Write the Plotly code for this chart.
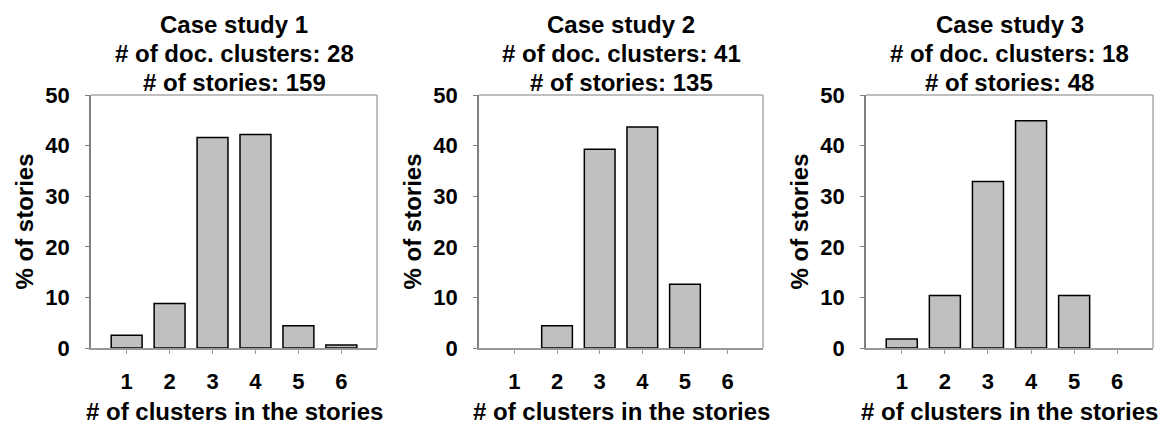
import plotly.graph_objects as go

categories = [1, 2, 3, 4, 5, 6]
tick_labels = ["1", "2", "3", "4", "5", "6"]
case1 = [2.5, 8.8, 41.6, 42.2, 4.4, 0.6]
case2 = [0.0, 4.4, 39.3, 43.7, 12.6, 0.0]
case3 = [1.8, 10.4, 32.9, 44.9, 10.4, 0.0]
title_lines = [
    ["Case study 1", "# of doc. clusters: 28", "# of stories: 159"],
    ["Case study 2", "# of doc. clusters: 41", "# of stories: 135"],
    ["Case study 3", "# of doc. clusters: 18", "# of stories: 48"],
]
y_ticks = [0, 10, 20, 30, 40, 50]
x_title = "# of clusters in the stories"
y_title = "% of stories"

W, H = 1166, 426
FONT = "Liberation Sans, Arial, sans-serif"
boxes = [(91, 377), (479, 763), (866, 1153)]
top_px, bot_px = 95, 348
line_y = [25, 53, 82]

fig = go.Figure()
series = [case1, case2, case3]
for i, (vals, (l, r)) in enumerate(zip(series, boxes)):
    n = "" if i == 0 else str(i + 1)
    fig.add_trace(go.Bar(
        x=categories, y=vals, width=0.72,
        marker=dict(color="#C0C0C0",
                    line=dict(color="#000000",
                              width=[1.5 if v > 0 else 0 for v in vals])),
        xaxis="x" + n, yaxis="y" + n, showlegend=False,
    ))
    dom_x = [l / W, r / W]
    dom_y = [1 - bot_px / H, 1 - top_px / H]
    fig.layout["xaxis" + n] = dict(
        domain=dom_x, range=[0.17, 6.83], anchor="y" + n,
        tickvals=categories, ticktext=tick_labels,
        showline=True, linecolor="#999999", linewidth=1.5,
        ticks="outside", ticklen=4, tickcolor="#999999",
        showgrid=False, zeroline=False, automargin=False,
        tickfont=dict(family=FONT, size=22, color="#000000", weight="bold"),
        ticklabelstandoff=9,
    )
    fig.layout["yaxis" + n] = dict(
        domain=dom_y, range=[0, 50], anchor="x" + n,
        tickvals=y_ticks,
        showline=True, linecolor="#808080", linewidth=1.5,
        ticks="outside", ticklen=4, tickcolor="#808080",
        showgrid=False, zeroline=False, automargin=False,
        tickfont=dict(family=FONT, size=22, color="#000000", weight="bold"),
        ticklabelstandoff=11,
    )
    fig.add_shape(type="line", xref="paper", yref="paper",
                  x0=l / W, x1=r / W, y0=dom_y[1], y1=dom_y[1],
                  line=dict(color="#AAAAAA", width=1.5))
    fig.add_shape(type="line", xref="paper", yref="paper",
                  x0=r / W, x1=r / W, y0=dom_y[0], y1=dom_y[1],
                  line=dict(color="#AAAAAA", width=1.5))
    cx = (l + r) / 2 / W
    for txt, yp in zip(title_lines[i], line_y):
        fig.add_annotation(text="<b>" + txt + "</b>",
                           xref="paper", yref="paper", x=cx, y=1 - yp / H,
                           xanchor="center", yanchor="middle", showarrow=False,
                           font=dict(family=FONT, size=24, color="#000000"))
    fig.add_annotation(text="<b>" + x_title + "</b>",
                       xref="paper", yref="paper", x=cx, y=0,
                       xanchor="center", yanchor="bottom", showarrow=False,
                       borderpad=0,
                       font=dict(family=FONT, size=24, color="#000000"))
    fig.add_annotation(text="<b>" + y_title + "</b>", textangle=-90,
                       xref="paper", yref="paper", x=(l - 67) / W,
                       y=1 - (top_px + bot_px) / 2 / H,
                       xanchor="center", yanchor="middle", showarrow=False,
                       font=dict(family=FONT, size=24, color="#000000"))

fig.update_layout(
    width=W, height=H, autosize=False,
    margin=dict(l=0, r=0, t=0, b=0, pad=0, autoexpand=False),
    paper_bgcolor="#FFFFFF", plot_bgcolor="#FFFFFF",
    font=dict(family=FONT, size=20, color="#000000"),
)
fig.write_html("out.html", config={"displayModeBar": False, "responsive": False},
               post_script="document.body.style.margin='0';document.body.style.overflow='hidden';")
